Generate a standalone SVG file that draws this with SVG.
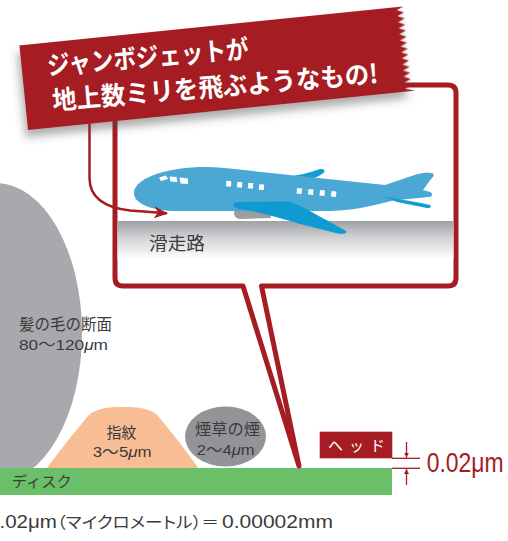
<svg xmlns="http://www.w3.org/2000/svg" width="508" height="541" viewBox="0 0 508 541">
  <style>
    .lbl { font-family: "Noto Sans CJK JP", "Liberation Sans", sans-serif; fill: #3b3b3b; }
    .num { font-family: "Liberation Sans", "Noto Sans CJK JP", sans-serif; fill: #3b3b3b; }
    .red-line { fill: none; stroke: #a51c23; }
    .win { fill: #ffffff; }
  </style>
  <defs>
    <linearGradient id="runwayGrad" x1="0" y1="0" x2="0" y2="1">
      <stop offset="0" stop-color="#9fa0a4"/>
      <stop offset="0.45" stop-color="#d2d3d5"/>
      <stop offset="1" stop-color="#ffffff"/>
    </linearGradient>
    <filter id="bannerShadow" x="-10%" y="-20%" width="125%" height="160%">
      <feGaussianBlur in="SourceAlpha" stdDeviation="4"/>
      <feOffset dx="-3" dy="7" result="blur"/>
      <feFlood flood-color="#4a4a4a" flood-opacity="0.45"/>
      <feComposite in2="blur" operator="in"/>
      <feMerge>
        <feMergeNode/>
        <feMergeNode in="SourceGraphic"/>
      </feMerge>
    </filter>
    <marker id="curveHead" viewBox="0 0 14 12" refX="13" refY="6" markerWidth="14" markerHeight="12" markerUnits="userSpaceOnUse" orient="auto">
      <path d="M0,0 L14,6 L0,12 L4,6 Z" fill="#a51c23"/>
    </marker>
    <marker id="dimHead" viewBox="0 0 6 6" refX="6" refY="3" markerWidth="5" markerHeight="6" markerUnits="userSpaceOnUse" orient="auto">
      <path d="M0,0 L6,3 L0,6 Z" fill="#a51c23"/>
    </marker>
  </defs>

  <rect width="508" height="541" fill="#ffffff"/>

  <!-- hair cross-section -->
  <g id="hair">
    <ellipse cx="-4" cy="333" rx="86" ry="150" fill="#a8a9ad"/>
    <text class="lbl" font-size="15.5" x="19" y="330" textLength="93" lengthAdjust="spacingAndGlyphs">髪の毛の断面</text>
    <text class="num" font-size="15.5" x="19" y="349.5" textLength="89" lengthAdjust="spacingAndGlyphs">80〜120<tspan font-style="italic">μ</tspan>m</text>
  </g>

  <!-- fingerprint -->
  <g id="fingerprint">
    <path d="M47 468 C60 450 78 428 88 416 C96 408 108 407 123 407 C138 407 150 408 158 416 C168 428 186 450 198 468 Z" fill="#f8bd95"/>
    <text class="lbl" font-size="15" x="106.5" y="437.5" textLength="30" lengthAdjust="spacingAndGlyphs">指紋</text>
    <text class="num" font-size="15" x="92.7" y="456.5" textLength="59" lengthAdjust="spacingAndGlyphs">3〜5<tspan font-style="italic">μ</tspan>m</text>
  </g>

  <!-- tobacco smoke -->
  <g id="smoke">
    <ellipse cx="225.5" cy="436.5" rx="40.5" ry="30" fill="#939498"/>
    <text class="lbl" font-size="16" x="195" y="435" textLength="65" lengthAdjust="spacingAndGlyphs">煙草の煙</text>
    <text class="num" font-size="15" x="196.7" y="455" textLength="58" lengthAdjust="spacingAndGlyphs">2〜4<tspan font-style="italic">μ</tspan>m</text>
  </g>

  <!-- disk surface -->
  <g id="disk">
    <rect x="0" y="468" width="392" height="27" fill="#6bbf69"/>
    <text class="lbl" font-size="15" x="11.7" y="487" textLength="60" lengthAdjust="spacingAndGlyphs">ディスク</text>
  </g>

  <!-- head and flying-height dimension -->
  <g id="head">
    <rect x="319.7" y="431.7" width="72.6" height="26.6" fill="#a51c23"/>
    <text font-family="'Noto Sans CJK JP', sans-serif" font-size="15" fill="#ffffff" x="328" y="451" textLength="57" lengthAdjust="spacing">ヘッド</text>
  </g>
  <g id="dimension">
    <line class="red-line" stroke-width="1.3" x1="392" y1="458.3" x2="420" y2="458.3"/>
    <line class="red-line" stroke-width="1.3" x1="392" y1="468.3" x2="420" y2="468.3"/>
    <line class="red-line" stroke-width="1.3" x1="406.5" y1="442" x2="406.5" y2="457.6" marker-end="url(#dimHead)"/>
    <line class="red-line" stroke-width="1.3" x1="406.5" y1="485" x2="406.5" y2="469" marker-end="url(#dimHead)"/>
    <text transform="translate(426.7 471.5) scale(0.85 1)" font-family="'Liberation Sans', sans-serif" font-size="27" fill="#a51c23">0.02μm</text>
  </g>

  <!-- unit note -->
  <g id="note">
    <text class="lbl" y="528"><tspan font-family="'Liberation Sans', sans-serif" font-size="19" x="-12" textLength="69" lengthAdjust="spacingAndGlyphs">0.02μm</tspan><tspan font-size="16" x="57" style="font-feature-settings: 'palt'" textLength="162" lengthAdjust="spacingAndGlyphs">（マイクロメートル）＝</tspan><tspan font-family="'Liberation Sans', sans-serif" font-size="19" x="222" textLength="111" lengthAdjust="spacingAndGlyphs">0.00002mm</tspan></text>
  </g>

  <!-- magnified view: runway and jet -->
  <g id="closeup">
    <path class="red-line" stroke-width="5" fill="#ffffff" stroke-linejoin="round"
          d="M115 93 Q115 85 123 85 L448 85 Q456 85 456 93 L456 278 Q456 286 448 286 L261.5 286 L299 466 L243 286 L123 286 Q115 286 115 278 Z"/>
    <rect x="117.5" y="221" width="336" height="38" fill="url(#runwayGrad)"/>
    <text class="lbl" font-size="18" x="149" y="250" textLength="56" lengthAdjust="spacingAndGlyphs">滑走路</text>

    <g id="jet">
      <!-- engine under the near wing -->
      <path d="M240 207 L268 208 L271 218 L240 219 C232 218.5 232 207.5 240 207 Z" fill="#9c9ea2"/>
      <!-- far wing tip -->
      <path d="M288 177 C300 175 312 172 318 169.5 C322 168 326 170 324 172.5 C320 176 315 178 311 179 Z" fill="#129dd3"/>
      <!-- fuselage with tail fin -->
      <path d="M134 194 C133 185 144 178 158 173.5 C171 169.5 187 167 205 167 C215 167 222 168 230 168.6 L385 185 L416 174.5 C422 172.5 430 172 433 173.5 C435 175 433 177 431 179 L423 190 L430 192 C433 193.5 433 196.5 429 197 L393 200.5 C375 205 355 210.5 330 211 L176 211 C156 211 135 205 134 194 Z" fill="#4ba8d5"/>
      <!-- horizontal stabilizer -->
      <path d="M384 196.5 L421 203 L430 205 C432 206.5 430 208.5 427 208 L397 202 Z" fill="#129dd3"/>
      <!-- near wing -->
      <path d="M238 202 L290 201.5 C300 205 330 222 346 231 C347.5 233 344.5 234.5 338 233.5 L300 224 C280 218 255 211 240 209 C232 208 231 202 238 202 Z" fill="#0e9bd2"/>
      <!-- cockpit windows -->
      <polygon class="win" points="159,177.5 166,175.5 168,179 161,181"/>
      <polygon class="win" points="169.5,176.5 176.5,177 177.5,182 170.5,181.5"/>
      <polygon class="win" points="179.5,177.5 188,178.5 188,184 180.5,183.5"/>
      <!-- cabin windows -->
      <g transform="rotate(5 280 188)">
        <rect class="win" x="226" y="185.5" width="5" height="5.5"/>
        <rect class="win" x="237" y="185.5" width="5" height="5.5"/>
        <rect class="win" x="248" y="185.5" width="5" height="5.5"/>
        <rect class="win" x="259" y="186" width="5" height="5.5"/>
        <rect class="win" x="297" y="186.5" width="5" height="5.5"/>
        <rect class="win" x="308.5" y="186.5" width="5" height="5.5"/>
        <rect class="win" x="320" y="186.5" width="5" height="5.5"/>
        <rect class="win" x="331.5" y="186.5" width="5" height="5.5"/>
      </g>
    </g>
  </g>

  <!-- connectors -->
  <g id="connectors">
    <path class="red-line" stroke-width="2.5" d="M89.5 118 L89.5 178 C89.5 200 108 208 130 210.5 L167 213.3" marker-end="url(#curveHead)"/>
  </g>

  <!-- headline banner -->
  <g id="banner">
    <path transform="translate(28 130) rotate(-5.8)" fill="#a51c23" filter="url(#bannerShadow)"
          d="M0 -85 L386 -85 L379 -82 L386 -78.9 L379 -75.9 L386 -72.9 L379 -69.8 L386 -66.8 L379 -63.8 L386 -60.7 L379 -57.7 L386 -54.6 L379 -51.6 L386 -48.6 L379 -45.5 L386 -42.5 L379 -39.5 L386 -36.4 L379 -33.4 L386 -30.4 L379 -27.3 L386 -24.3 L379 -21.3 L386 -18.2 L379 -15.2 L386 -12.1 L379 -9.1 L386 -6.1 L379 -3 L389 0 L0 0 Z"/>
    <g font-family="'Noto Sans CJK JP', sans-serif" font-weight="bold" font-size="26" fill="#ffffff">
      <text transform="translate(48 75) rotate(-4.8)" textLength="202" lengthAdjust="spacingAndGlyphs">ジャンボジェットが</text>
      <text transform="translate(53 110) rotate(-4.8)" textLength="327" lengthAdjust="spacingAndGlyphs">地上数ミリを飛ぶようなもの!</text>
    </g>
  </g>
</svg>
